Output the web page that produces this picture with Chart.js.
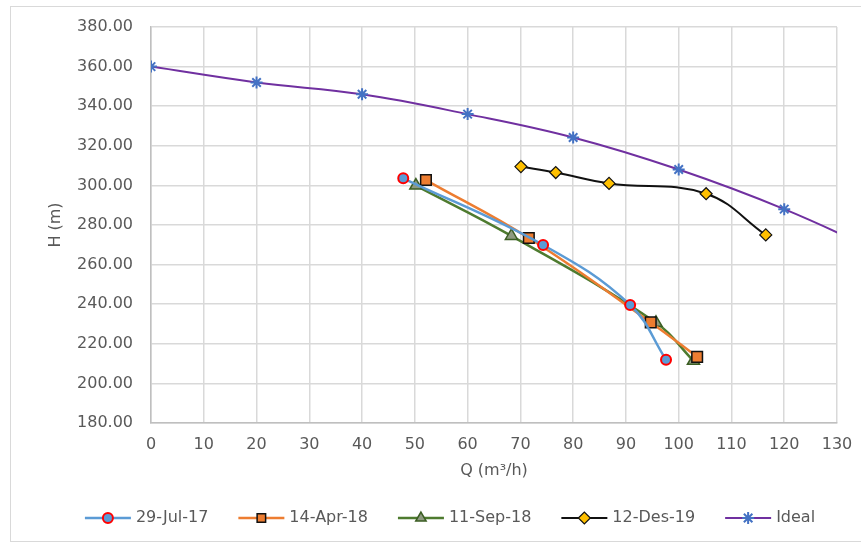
<!DOCTYPE html>
<html>
<head>
<meta charset="utf-8">
<script src="https://cdn.jsdelivr.net/npm/chart.js@4"></script>
<style>
html,body{margin:0;padding:0;background:#fff;}
#wrap{position:relative;width:861px;height:544px;overflow:hidden;}
#frame{position:absolute;left:10px;top:6px;width:900px;height:536px;border:1px solid #d9d9d9;box-sizing:border-box;}
canvas{position:absolute;left:0;top:0;}
</style>
</head>
<body>
<div id="wrap"><div id="frame"></div><canvas id="c" width="861" height="544"></canvas></div>
<script>
// ---- data ----
const xTicks = [0,10,20,30,40,50,60,70,80,90,100,110,120,130];
const yTicks = [180,200,220,240,260,280,300,320,340,360,380];

const jul17Q = [47.8, 74.3, 90.8, 97.6];
const jul17H = [303.6, 269.9, 239.6, 212.0];

const apr18Q = [52.1, 71.6, 94.7, 103.5];
const apr18H = [302.7, 273.4, 230.8, 213.4];

const sep18Q = [50.2, 68.3, 95.7, 102.8];
const sep18H = [299.9, 274.5, 230.6, 211.4];

const des19Q = [70.1, 76.7, 86.8, 105.2, 116.5];
const des19H = [309.5, 306.5, 301.0, 295.8, 275.0];

const idealQ = [0, 20, 40, 60, 80, 100, 120, 140];
const idealH = [360.0, 352.0, 346.0, 336.0, 324.2, 308.0, 288.0, 264.0];

const seriesNames = ['29-Jul-17','14-Apr-18','11-Sep-18','12-Des-19','Ideal'];

function pts(xs, ys){ return xs.map((x,i)=>({x:x, y:ys[i]})); }

const FONT = "'DejaVu Sans', sans-serif";
const GREY = '#595959';

const datasets = [
  {label:seriesNames[0], data:pts(jul17Q,jul17H), borderColor:'#5B9BD5', borderWidth:2.5,
   pointStyle:'circle', pointRadius:5, pointBackgroundColor:'#5B9BD5', pointBorderColor:'#FF0000', pointBorderWidth:2},
  {label:seriesNames[1], data:pts(apr18Q,apr18H), borderColor:'#ED7D31', borderWidth:2.5,
   pointStyle:'rect', pointRadius:7.5, pointBackgroundColor:'#ED7D31', pointBorderColor:'#111111', pointBorderWidth:1.5},
  {label:seriesNames[2], data:pts(sep18Q,sep18H), borderColor:'#4E7B2F', borderWidth:2.5,
   pointStyle:'triangle', pointRadius:7, pointBackgroundColor:'#8E9A80', pointBorderColor:'#3B5E23', pointBorderWidth:1.5},
  {label:seriesNames[3], data:pts(des19Q,des19H), borderColor:'#111111', borderWidth:2,
   pointStyle:'rectRot', pointRadius:6, pointBackgroundColor:'#FFC000', pointBorderColor:'#111111', pointBorderWidth:1.2},
  {label:seriesNames[4], data:pts(idealQ,idealH), borderColor:'#7030A0', borderWidth:2,
   pointStyle:'star', pointRadius:6, pointBackgroundColor:'#4472C4', pointBorderColor:'#4472C4', pointBorderWidth:2}
];
datasets.forEach(d=>{ d.tension = 0.4; d.fill = false; d.showLine = true; });

// custom legend: line with marker
const legendPlugin = {
  id:'lineMarkerLegend',
  afterDraw(chart){
    const ctx = chart.ctx;
    ctx.save();
    ctx.font = '16px ' + FONT;
    const lineLen = 46, gapText = 5, gapItem = 30;
    const items = chart.data.datasets.map(d=>({d, w: ctx.measureText(d.label).width}));
    const total = items.reduce((s,it)=>s+lineLen+gapText+it.w,0) + gapItem*(items.length-1);
    let x = 450 - total/2;
    const y = 518;
    items.forEach(it=>{
      const d = it.d;
      ctx.strokeStyle = d.borderColor; ctx.lineWidth = d.borderWidth;
      ctx.beginPath(); ctx.moveTo(x,y); ctx.lineTo(x+lineLen,y); ctx.stroke();
      ctx.fillStyle = d.pointBackgroundColor; ctx.strokeStyle = d.pointBorderColor;
      ctx.lineWidth = d.pointBorderWidth;
      Chart.helpers.drawPoint(ctx, {pointStyle:d.pointStyle, radius:Math.min(d.pointRadius,6), borderWidth:d.pointBorderWidth}, x+lineLen/2, y);
      ctx.fillStyle = GREY; ctx.textBaseline = 'middle'; ctx.textAlign = 'left';
      ctx.fillText(d.label, x+lineLen+gapText, y);
      x += lineLen + gapText + it.w + gapItem;
    });
    ctx.restore();
  }
};

new Chart(document.getElementById('c'), {
  type:'scatter',
  data:{datasets},
  plugins:[legendPlugin],
  options:{
    responsive:false, animation:false, devicePixelRatio:1,
    layout:{padding:{left:0, top:27, right:24, bottom:61}},
    plugins:{legend:{display:false}, tooltip:{enabled:false}},
    scales:{
      x:{
        type:'linear', min:0, max:130,
        afterBuildTicks: s => { s.ticks = xTicks.map(v=>({value:v})); },
        afterFit: s => { s.height = 60; s.paddingLeft = 0; s.paddingRight = 0; },
        grid:{color:'#D9D9D9', lineWidth:1.5, drawTicks:false},
        border:{color:'#BFBFBF', width:1.5},
        ticks:{color:GREY, font:{family:FONT, size:16}, padding:12, maxRotation:0, autoSkip:false},
        title:{display:true, text:'Q (m³/h)', color:GREY, font:{family:FONT, size:16}, padding:{top:0,bottom:3}}
      },
      y:{
        type:'linear', min:180, max:380,
        afterBuildTicks: s => { s.ticks = yTicks.map(v=>({value:v})); },
        afterFit: s => { s.width = 151; s.paddingTop = 0; s.paddingBottom = 0; },
        grid:{color:'#D9D9D9', lineWidth:1.5, drawTicks:false},
        border:{color:'#BFBFBF', width:1.5},
        ticks:{color:GREY, font:{family:FONT, size:16}, padding:18, autoSkip:false,
               callback: v => Number(v).toFixed(2)},
        title:{display:true, text:'H (m)', color:GREY, font:{family:FONT, size:16}, padding:{top:46,bottom:0}}
      }
    }
  }
});
</script>
</body>
</html>
